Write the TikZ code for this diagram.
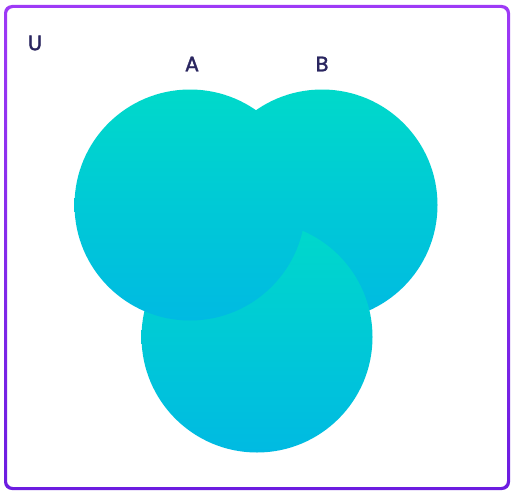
\documentclass[tikz,border=0pt]{standalone}
\usepackage{fontspec}
\setmainfont{Poppins}
\newfontfamily\lblfont{Poppins}[FakeBold=1.6]
\definecolor{tealtop}{RGB}{0,217,202}
\definecolor{tealbot}{RGB}{0,186,226}
\definecolor{purtop}{RGB}{158,58,246}
\definecolor{purbot}{RGB}{108,28,224}
\definecolor{labelc}{RGB}{42,38,96}
\tikzset{
  setc/.style={circle, draw=none, minimum size=231pt, inner sep=0pt, top color=tealtop, bottom color=tealbot},
  lbl/.style={text=labelc, font=\lblfont\fontsize{21}{24}\selectfont, inner sep=0pt}
}
\begin{document}
\begin{tikzpicture}[x=1pt,y=-1pt]
\useasboundingbox (0,0) rectangle (514,495);
\fill[white] (0,0) rectangle (514,495);
\shade[top color=purtop, bottom color=purbot, even odd rule, rounded corners=8pt]
  (4,5) rectangle (510,490) [rounded corners=6pt] (7,8) rectangle (507,487);
\node[setc] (B) at (322,205) {};
\node[setc] (C) at (257,337) {};
\node[setc] (A) at (190,205) {};
\node[lbl] (U) at (35,43) {U};
\node[lbl] (la) at (192,64) {A};
\node[lbl] (lb) at (322,64) {B};
\end{tikzpicture}
\end{document}
